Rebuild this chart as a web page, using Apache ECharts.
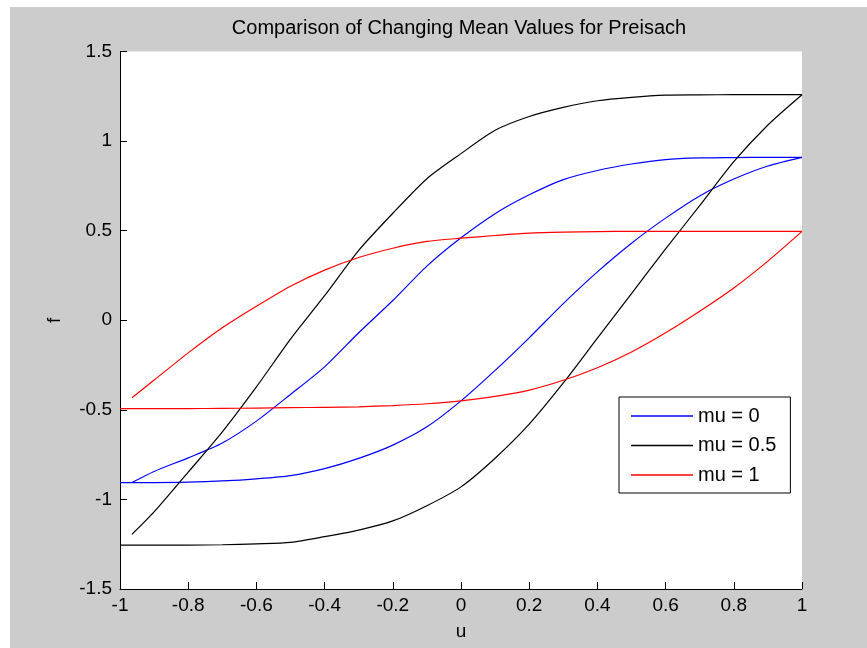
<!DOCTYPE html>
<html>
<head>
<meta charset="utf-8">
<script src="https://cdn.jsdelivr.net/npm/echarts@6/dist/echarts.min.js"></script>
<style>
  html, body { margin: 0; padding: 0; background: #ffffff; }
  #chart { position: absolute; left: 10px; top: 7px; width: 857px; height: 641px; }
</style>
</head>
<body>
<div id="chart"></div>
<script>
// x positions of the rising (lower) branches, -1 .. 1
var uLower = [-1, -0.9, -0.8, -0.7, -0.6, -0.5, -0.4, -0.3, -0.2, -0.1, 0, 0.1, 0.2, 0.3, 0.4, 0.5, 0.6, 0.7, 0.8, 0.9, 1];
// x positions of the falling (upper) branches, -0.965 .. 1
var uUpper = [-0.965, -0.9, -0.8, -0.7, -0.6, -0.5, -0.4, -0.3, -0.2, -0.1, 0, 0.1, 0.2, 0.3, 0.4, 0.5, 0.6, 0.7, 0.8, 0.9, 1];

// mu = 0 (blue)
var blueLower = [-0.906, -0.906, -0.904, -0.897, -0.885, -0.867, -0.828, -0.771, -0.697, -0.595, -0.45, -0.28, -0.098, 0.093, 0.27, 0.43, 0.57, 0.694, 0.788, 0.861, 0.909];
var blueUpper = [-0.906, -0.844, -0.768, -0.685, -0.563, -0.414, -0.26, -0.07, 0.11, 0.302, 0.46, 0.595, 0.70, 0.785, 0.836, 0.872, 0.897, 0.906, 0.908, 0.909, 0.909];

// mu = 0.5 (black)
var blackLower = [-1.255, -1.255, -1.255, -1.253, -1.248, -1.24, -1.208, -1.171, -1.12, -1.035, -0.93, -0.77, -0.58, -0.35, -0.10, 0.149, 0.398, 0.64, 0.885, 1.09, 1.259];
var blackUpper = [-1.195, -1.07, -0.848, -0.623, -0.372, -0.105, 0.137, 0.39, 0.597, 0.79, 0.93, 1.06, 1.137, 1.188, 1.225, 1.244, 1.256, 1.258, 1.259, 1.259, 1.259];

// mu = 1 (red)
var redLower = [-0.493, -0.493, -0.493, -0.492, -0.49, -0.488, -0.486, -0.483, -0.476, -0.466, -0.45, -0.425, -0.39, -0.335, -0.265, -0.177, -0.07, 0.05, 0.18, 0.33, 0.496];
var redUpper = [-0.433, -0.334, -0.182, -0.042, 0.078, 0.19, 0.28, 0.35, 0.402, 0.44, 0.458, 0.473, 0.486, 0.492, 0.495, 0.496, 0.496, 0.496, 0.496, 0.496, 0.496];

var legendNames = ['mu = 0', 'mu = 0.5', 'mu = 1'];
var colors = ['#0000ff', '#000000', '#ff0000'];

function pairs(xs, ys) {
  var out = [];
  for (var i = 0; i < xs.length; i++) out.push([xs[i], ys[i]]);
  return out;
}

var branches = [
  [blueLower, blueUpper],
  [blackLower, blackUpper],
  [redLower, redUpper]
];

var series = [];
branches.forEach(function (b, k) {
  [pairs(uLower, b[0]), pairs(uUpper, b[1])].forEach(function (d) {
    series.push({
      type: 'line',
      name: legendNames[k],
      data: d,
      symbol: 'none',
      smooth: 0.25,
      color: colors[k],
      lineStyle: { color: colors[k], width: 1.2 },
      animation: false
    });
  });
});

var font = 'Arial, "Liberation Sans", Helvetica, sans-serif';
var chart = echarts.init(document.getElementById('chart'));
chart.setOption({
  backgroundColor: '#cccccc',
  animation: false,
  title: {
    text: 'Comparison of Changing Mean Values for Preisach',
    left: 449,
    textAlign: 'center',
    top: 11,
    padding: 0,
    textStyle: { fontFamily: font, fontSize: 20, fontWeight: 'normal', color: '#000' }
  },
  legend: {
    data: legendNames.map(function (n) { return { name: n, icon: 'rect' }; }),
    orient: 'vertical',
    left: 609,
    top: 390,
    backgroundColor: '#ffffff',
    borderColor: '#000000',
    borderWidth: 1,
    borderRadius: 0,
    padding: [9, 14, 8, 12],
    itemWidth: 62,
    itemHeight: 1.5,
    itemGap: 9.5,
    textStyle: { fontFamily: font, fontSize: 20, color: '#000', lineHeight: 20 }
  },
  grid: {
    left: 110,
    right: 65,
    top: 44.5,
    bottom: 59,
    show: true,
    backgroundColor: '#ffffff',
    borderWidth: 0
  },
  xAxis: {
    type: 'value',
    min: -1,
    max: 1,
    interval: 0.2,
    name: 'u',
    nameLocation: 'middle',
    nameGap: 33,
    nameTextStyle: { fontFamily: font, fontSize: 19, color: '#000' },
    axisLine: { show: true, onZero: false, lineStyle: { color: '#000', width: 1 } },
    axisTick: { show: true, inside: true, length: 7, lineStyle: { color: '#000' } },
    axisLabel: { fontFamily: font, fontSize: 19, color: '#000', margin: 7 },
    splitLine: { show: false }
  },
  yAxis: {
    type: 'value',
    min: -1.5,
    max: 1.5,
    interval: 0.5,
    name: 'f',
    nameLocation: 'middle',
    nameGap: 56,
    nameRotate: 90,
    nameTextStyle: { fontFamily: font, fontSize: 19, color: '#000' },
    axisLine: { show: true, onZero: false, lineStyle: { color: '#000', width: 1 } },
    axisTick: { show: true, inside: true, length: 7, lineStyle: { color: '#000' } },
    axisLabel: { fontFamily: font, fontSize: 19, color: '#000', margin: 8 },
    splitLine: { show: false }
  },
  series: series
});
</script>
</body>
</html>
